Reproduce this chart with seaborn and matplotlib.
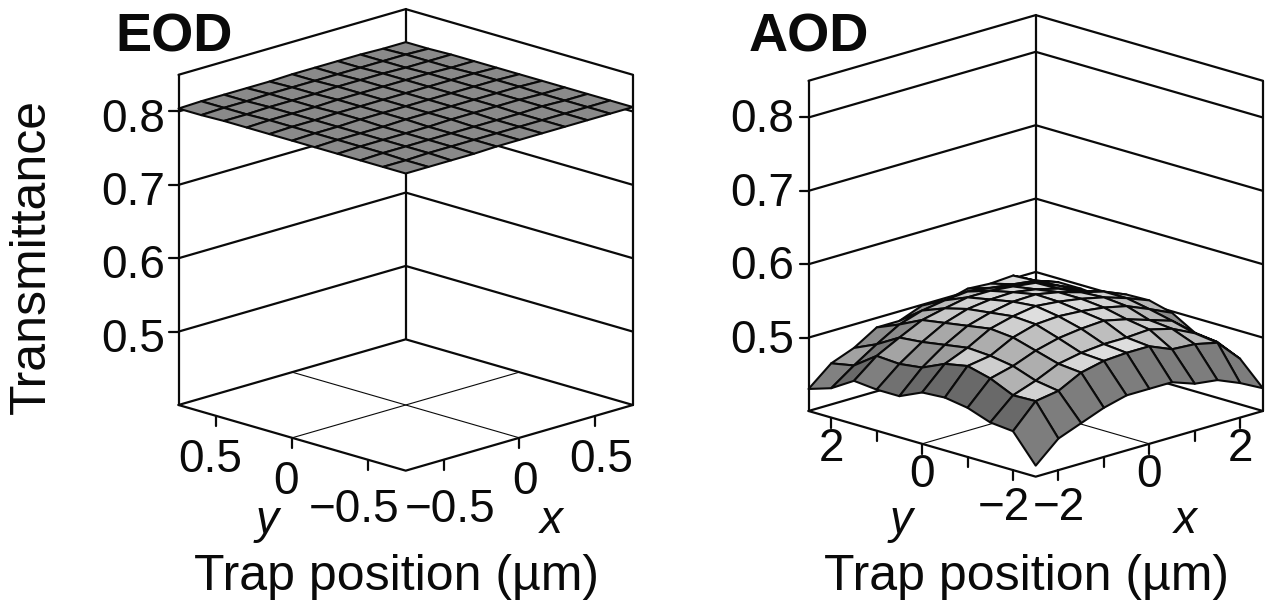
# Trap transmittance surfaces for EOD and AOD scanning
import numpy as np
import matplotlib
matplotlib.use("Agg")
import matplotlib.pyplot as plt
from mpl_toolkits.mplot3d import proj3d
import seaborn as sns

W, H = 1272, 606

# Data: node positions (um) and transmittance, rows = y, columns = x
eod_pos = [-0.75, -0.6, -0.45, -0.3, -0.15, 0, 0.15, 0.3, 0.45, 0.6, 0.75]
aod_pos = [-2.5, -2, -1.5, -1, -0.5, 0, 0.5, 1, 1.5, 2, 2.5]

eod_z = [
    [.805, .805, .805, .805, .806, .806, .806, .806, .806, .806, .806],
    [.805, .805, .806, .806, .806, .806, .806, .806, .806, .806, .806],
    [.805, .806, .806, .806, .806, .806, .806, .806, .807, .806, .806],
    [.805, .806, .806, .806, .806, .807, .807, .807, .807, .806, .806],
    [.805, .806, .806, .806, .807, .807, .807, .807, .807, .807, .806],
    [.805, .806, .806, .807, .807, .807, .807, .807, .807, .807, .806],
    [.805, .806, .806, .807, .807, .807, .807, .807, .807, .807, .806],
    [.805, .806, .806, .806, .807, .807, .807, .807, .807, .806, .806],
    [.805, .805, .806, .806, .806, .807, .807, .807, .806, .806, .806],
    [.804, .805, .805, .806, .806, .806, .806, .806, .806, .806, .805],
    [.804, .805, .805, .805, .805, .806, .806, .806, .806, .805, .805],
]

aod_z = [
    [.415, .443, .455, .467, .475, .475, .475, .464, .460, .447, .431],
    [.453, .485, .490, .506, .513, .515, .515, .502, .500, .493, .462],
    [.456, .484, .495, .509, .515, .518, .518, .520, .512, .497, .476],
    [.467, .498, .506, .518, .526, .530, .532, .525, .515, .505, .480],
    [.472, .506, .511, .527, .536, .538, .536, .532, .525, .512, .498],
    [.470, .500, .513, .530, .538, .543, .540, .535, .528, .518, .506],
    [.456, .486, .508, .525, .534, .540, .541, .535, .526, .518, .505],
    [.456, .482, .503, .520, .530, .534, .535, .530, .522, .510, .492],
    [.459, .484, .500, .515, .522, .528, .528, .525, .521, .508, .495],
    [.440, .462, .482, .500, .510, .515, .518, .514, .510, .506, .495],
    [.430, .456, .468, .487, .487, .499, .496, .504, .502, .504, .488],
]

z_ticks = [0.5, 0.6, 0.7, 0.8]
z_low, z_high = 0.40, 0.85
eod_ticks = [-0.5, 0, 0.5]
eod_tick_labels = ["\u22120.5", "0", "0.5"]
aod_ticks = [-2, -1, 0, 1, 2]
aod_tick_labels = ["\u22122", "", "0", "", "2"]

sns.set_theme(style="white", font="Liberation Sans")
BLACK = "#0a0a0a"
SIZE = 33
ZOOM = 0.923


def px(x, y):
    return x / W, 1 - y / H


def slope_colors(z):
    # grey level from the steepness of each cell, box units
    dz = np.array(z) * 767
    step = 32.1
    d_row = (dz[1:, :-1] - dz[:-1, :-1] + dz[1:, 1:] - dz[:-1, 1:]) / 2 / step
    d_col = (dz[:-1, 1:] - dz[:-1, :-1] + dz[1:, 1:] - dz[1:, :-1]) / 2 / step
    steep = np.hypot(d_row, d_col)
    grey = np.clip(0.92 - 0.8 * steep ** 1.3, 0.41, 0.87)
    # faces turned to the right catch a little more light
    grey = grey + 0.08 * (d_row > 0.4)
    return np.dstack([grey, grey, grey, np.ones_like(grey)])


def label3d(ax, x, y, z, s, **kw):
    # plain 2D text placed at the projected position of a 3D point
    u, v, _ = proj3d.proj_transform(x, y, z, ax.get_proj())
    ax.text2D(u, v, s, transform=ax.transData, fontsize=SIZE, color=BLACK, clip_on=False, **kw)


def draw_panel(rect, pos, z, ticks, tick_labels, colors, side_t, drop, lift_t, lateral, front_shift, z_nudge):
    ax = fig.add_axes(rect, projection="3d", proj_type="ortho")
    ax.view_init(elev=16.8, azim=-135)
    ax.computed_zorder = False
    lo, hi = pos[0], pos[-1]
    ax.set_xlim(lo, hi)
    ax.set_ylim(lo, hi)
    ax.set_zlim(z_low, z_high)
    ax.set_box_aspect((1, 1, 1.0735), zoom=ZOOM)
    ax.set_axis_off()
    ax.patch.set_alpha(0)
    line = dict(color=BLACK, lw=1.6, zorder=1, solid_capstyle="round")

    # box: floor, walls
    ax.plot([lo, hi, hi], [hi, hi, lo], [z_low] * 3, **line)
    ax.plot([lo, lo, hi], [hi, lo, lo], [z_low] * 3, **line)
    ax.plot([lo, hi, hi], [hi, hi, lo], [z_high] * 3, **line)
    for cx, cy in [(lo, hi), (hi, hi), (hi, lo)]:
        ax.plot([cx, cx], [cy, cy], [z_low, z_high], **line)
    for t in z_ticks:
        ax.plot([lo, hi, hi], [hi, hi, lo], [t] * 3, **line)
        ax.plot([lo - lift_t, lo], [hi + lift_t, hi], [t, t], **line)
        label3d(ax, lo - side_t, hi + side_t, t - z_nudge, f"{t:.1f}", ha="right", va="center")

    # floor grid through zero
    ax.plot([0, 0], [lo, hi], [z_low, z_low], color=BLACK, lw=0.8, zorder=1)
    ax.plot([lo, hi], [0, 0], [z_low, z_low], color=BLACK, lw=0.8, zorder=1)

    # ticks and labels on the two front edges
    for t, lab in zip(ticks, tick_labels):
        ax.plot([t, t], [lo, lo], [z_low, z_low - 0.0136], **line)
        ax.plot([lo, lo], [t, t], [z_low, z_low - 0.0136], **line)
        if lab:
            # the labels nearest the front corner sit lower and further apart
            front = t == ticks[0]
            zt = z_low - drop - (0.009 if front else 0)
            extra = front_shift if front else 0
            label3d(ax, t + lateral, lo - lateral, zt, lab, ha="center", va="center")
            label3d(ax, lo - lateral - extra, t + lateral + extra, zt, lab, ha="center", va="center")

    X, Y = np.meshgrid(pos, pos)
    ax.plot_surface(X, Y, np.array(z), facecolors=colors, rstride=1, cstride=1, shade=False,
                    edgecolor=BLACK, linewidth=1.5, zorder=3, antialiased=True)
    return ax


fig = plt.figure(figsize=(W / 100, H / 100), dpi=100)

flat = np.full((10, 10, 4), 1.0)
flat[:, :, :3] = 0.54

draw_panel([97.6 / W, 1 - 548 / H, 600 / W, 600 / H], eod_pos, eod_z, eod_ticks, eod_tick_labels,
           flat, 0.043, 0.06, 0.03, 0.02, 0.027, 0.011)
draw_panel([727.6 / W, 1 - 554 / H, 600 / W, 600 / H], aod_pos, aod_z, aod_ticks, aod_tick_labels,
           slope_colors(aod_z), 0.16, 0.043, 0.098, 0.0, 0.098, 0.004)

# titles and labels
for x, name in [(115, "EOD"), (749, "AOD")]:
    fig.text(*px(x, 52), name, fontsize=39, fontweight="bold", color=BLACK, va="baseline")
fig.text(*px(32, 256), "Transmittance", fontsize=36, rotation=90, ha="center", va="center", color=BLACK)
for x in [397, 1027]:
    fig.text(*px(x, 590), "Trap position (\u00b5m)", fontsize=36, ha="center", va="baseline", color=BLACK)
for x, name in [(267, "y"), (551, "x"), (901, "y"), (1185, "x")]:
    fig.text(*px(x, 533), name, fontsize=SIZE, style="italic", ha="center", va="baseline", color=BLACK)

fig.savefig("out.png", dpi=100, facecolor="white")
